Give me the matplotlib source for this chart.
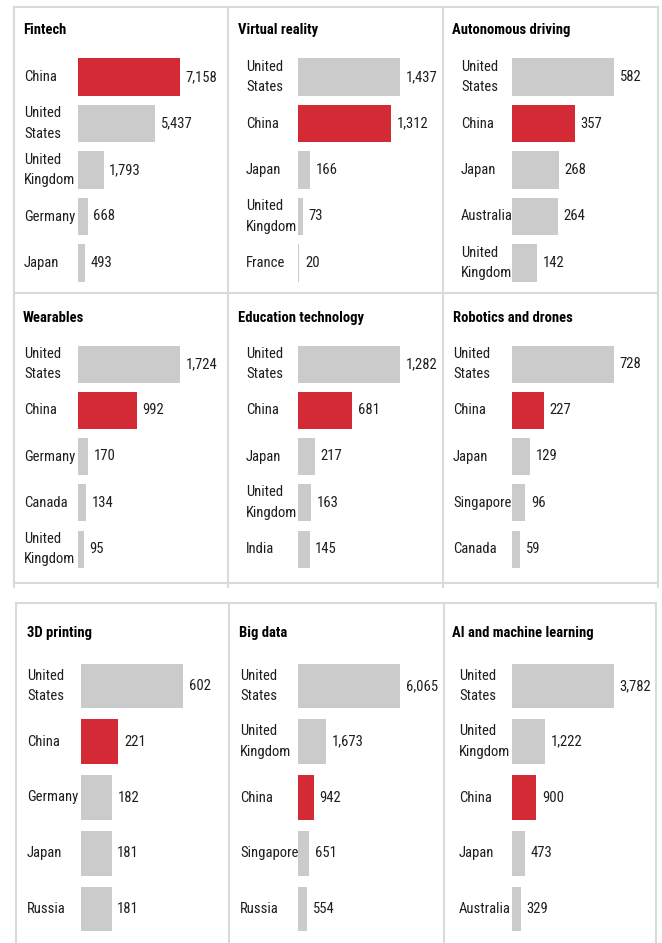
import matplotlib
matplotlib.use("Agg")
import matplotlib.pyplot as plt
from matplotlib.lines import Line2D
from matplotlib.transforms import blended_transform_factory

plt.rcParams['font.family'] = ['Roboto Condensed', 'Archivo Narrow', 'DejaVu Sans']

# data, one list per panel
titles = ['Fintech', 'Virtual reality', 'Autonomous driving',
          'Wearables', 'Education technology', 'Robotics and drones',
          '3D printing', 'Big data', 'AI and machine learning']
countries = [
    ['China', 'United\nStates', 'United\nKingdom', 'Germany', 'Japan'],
    ['United\nStates', 'China', 'Japan', 'United\nKingdom', 'France'],
    ['United\nStates', 'China', 'Japan', 'Australia', 'United\nKingdom'],
    ['United\nStates', 'China', 'Germany', 'Canada', 'United\nKingdom'],
    ['United\nStates', 'China', 'Japan', 'United\nKingdom', 'India'],
    ['United\nStates', 'China', 'Japan', 'Singapore', 'Canada'],
    ['United\nStates', 'China', 'Germany', 'Japan', 'Russia'],
    ['United\nStates', 'United\nKingdom', 'China', 'Singapore', 'Russia'],
    ['United\nStates', 'United\nKingdom', 'China', 'Japan', 'Australia'],
]
values = [
    [7158, 5437, 1793, 668, 493],
    [1437, 1312, 166, 73, 20],
    [582, 357, 268, 264, 142],
    [1724, 992, 170, 134, 95],
    [1282, 681, 217, 163, 145],
    [728, 227, 129, 96, 59],
    [602, 221, 182, 181, 181],
    [6065, 1673, 942, 651, 554],
    [3782, 1222, 900, 473, 329],
]

RED = '#D42A35'
GREY = '#CBCBCB'
LINE = '#DADADA'
TXT = '#1e1e1e'
FS = 10.5

W, H = 662, 943
fig = plt.figure(figsize=(W / 100, H / 100), dpi=100)
fig.patch.set_facecolor('white')


def fx(px):
    return px / W


def fy(py):
    return 1 - py / H


def hline(x0, x1, y):
    fig.add_artist(Line2D([fx(x0), fx(x1)], [fy(y), fy(y)], color=LINE, lw=1.5))


def vline(x, y0, y1):
    fig.add_artist(Line2D([fx(x), fx(x)], [fy(y0), fy(y1)], color=LINE, lw=1.5))


# panel borders, top block
hline(14, 658, 7)
hline(14, 658, 293)
hline(14, 658, 583)
for x in (14, 228, 443, 658):
    vline(x, 7, 587)
# bottom block
hline(16, 656, 603)
for x in (16, 229, 444, 656):
    vline(x, 603, 943)

# per panel layout in pixels
col_label = [[24, 246, 461], [24, 246, 453], [27, 240, 459]]
col_title = [[23, 238, 452], [23, 238, 453], [27, 239, 452]]
col_bar = [[78, 298, 512], [78, 298, 512], [81, 298, 512]]
row_title = [30, 318, 633]
row_first = [77, 364, 686]
row_last = [263, 549, 909]
BAR_W = 102

for i in range(9):
    r, c = divmod(i, 3)
    vals = values[i]
    step = (row_last[r] - row_first[r]) / 4
    top = row_first[r] - step / 2
    bot = row_last[r] + step / 2
    x0 = col_bar[r][c]
    ax = fig.add_axes([fx(x0), fy(bot), BAR_W / W, (bot - top) / H])
    ax.set_xlim(0, max(vals))
    ax.set_ylim(4.5, -0.5)
    ax.axis('off')
    cols = [RED if n == 'China' else GREY for n in countries[i]]
    ax.barh(range(5), vals, height=0.8, color=cols, edgecolor='none')
    for k, v in enumerate(vals):
        ax.annotate(f'{v:,}', (v, k), xytext=(4, 0), textcoords='offset points',
                    va='center', ha='left', fontsize=FS, color=TXT,
                    annotation_clip=False)
    tr = blended_transform_factory(fig.transFigure, ax.transData)
    for k, name in enumerate(countries[i]):
        ax.text(fx(col_label[r][c]), k, name, transform=tr, ha='left', va='center',
                fontsize=FS, color=TXT, linespacing=1.6, clip_on=False)
    fig.text(fx(col_title[r][c]), fy(row_title[r]), titles[i], ha='left', va='center',
             fontsize=FS, fontweight='bold', color='black')

fig.savefig('out.png', dpi=100, facecolor='white')
